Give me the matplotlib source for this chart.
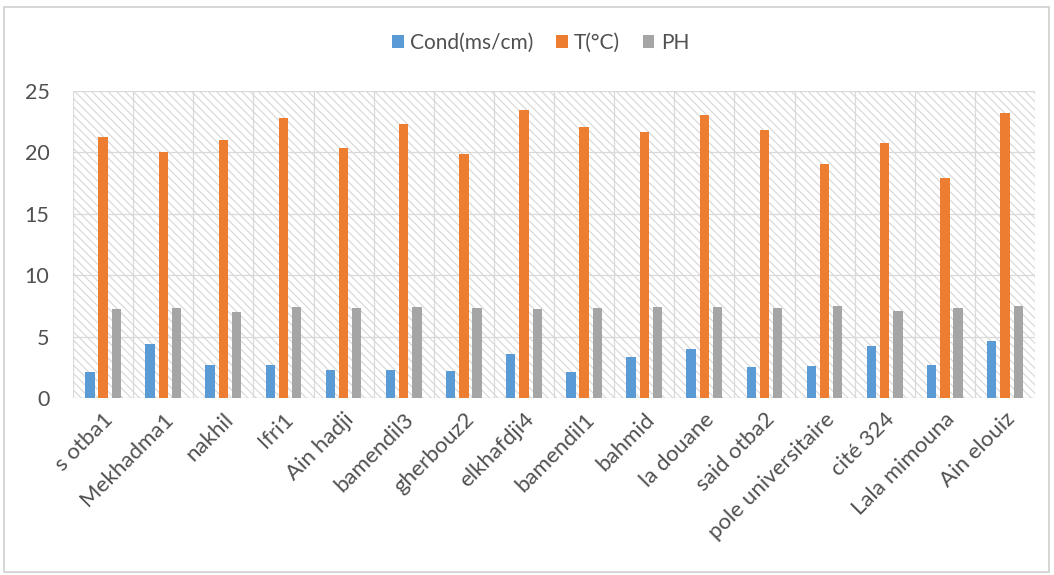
import matplotlib
matplotlib.use('Agg')
import matplotlib.pyplot as plt
from matplotlib.patches import Rectangle
import numpy as np

plt.rcParams['font.family'] = ['Lato', 'DejaVu Sans']
plt.rcParams['hatch.linewidth'] = 0.8

sites = ['s otba1', 'Mekhadma1', 'nakhil', 'Ifri1', 'Ain hadji', 'bamendil3',
         'gherbouz2', 'elkhafdji4', 'bamendil1', 'bahmid', 'la douane',
         'said otba2', 'pole universitaire', 'cité 324', 'Lala mimouna', 'Ain elouiz']
cond = [2.1, 4.4, 2.7, 2.7, 2.3, 2.3, 2.2, 3.6, 2.1, 3.3, 4.0, 2.5, 2.6, 4.2, 2.7, 4.6]
temp = [21.2, 20.0, 21.0, 22.8, 20.3, 22.3, 19.8, 23.4, 22.0, 21.6, 23.0, 21.8, 19.0, 20.7, 17.9, 23.2]
ph = [7.2, 7.3, 7.0, 7.4, 7.3, 7.4, 7.3, 7.2, 7.3, 7.4, 7.4, 7.3, 7.5, 7.1, 7.3, 7.5]

series = [('Cond(ms/cm)', cond, '#5B9BD5'),
          ('T(°C)', temp, '#ED7D31'),
          ('PH', ph, '#A5A5A5')]

text_col = '#505050'
grid_col = '#d9d9d9'

fig = plt.figure(figsize=(10.54, 5.75), dpi=100)
ax = fig.add_axes([0.0693, 0.3078, 0.9127, 0.5348])

# outer chart frame
fig.add_artist(Rectangle((0.004, 0.006), 0.991, 0.981, transform=fig.transFigure,
                         fill=False, edgecolor='#d0d0d0', lw=1.2))

x = np.arange(len(sites))
n = len(sites)

# hatched plot area
ax.add_patch(Rectangle((0, 0), 1, 1, transform=ax.transAxes, facecolor='white',
                       hatch='\\\\\\\\', edgecolor='#d6d6d6', lw=0, zorder=0))

for v in np.arange(-0.5, n, 1.0):
    ax.axvline(v, color=grid_col, lw=0.9, zorder=0.5)
for h in range(5, 26, 5):
    ax.axhline(h, color=grid_col, lw=0.9, zorder=0.5)
ax.axhline(0, color='#d0d0d0', lw=1.0, zorder=0.6)

offset = 0.22
width = 0.155
for k, (name, vals, col) in enumerate(series):
    ax.bar(x + (k - 1) * offset, vals, width=width, color=col, label=name, zorder=2)

ax.set_xlim(-0.5, n - 0.5)
ax.set_ylim(0, 25)
ax.set_yticks(range(0, 26, 5))
ax.set_xticks(x)
ax.set_xticklabels(sites, rotation=45, ha='right', rotation_mode='anchor',
                   fontsize=16, color=text_col)
ax.tick_params(axis='y', labelsize=15.5, labelcolor=text_col, length=0, pad=17)
ax.tick_params(axis='x', length=0, pad=8)
for s in ax.spines.values():
    s.set_visible(False)

leg = fig.legend(loc='center', bbox_to_anchor=(0.513, 0.925), ncol=3, frameon=False,
                 fontsize=15, handlelength=0.55, handleheight=0.55, handletextpad=0.3,
                 columnspacing=1.1)
for t in leg.get_texts():
    t.set_color(text_col)

fig.savefig('out.png', dpi=100)
